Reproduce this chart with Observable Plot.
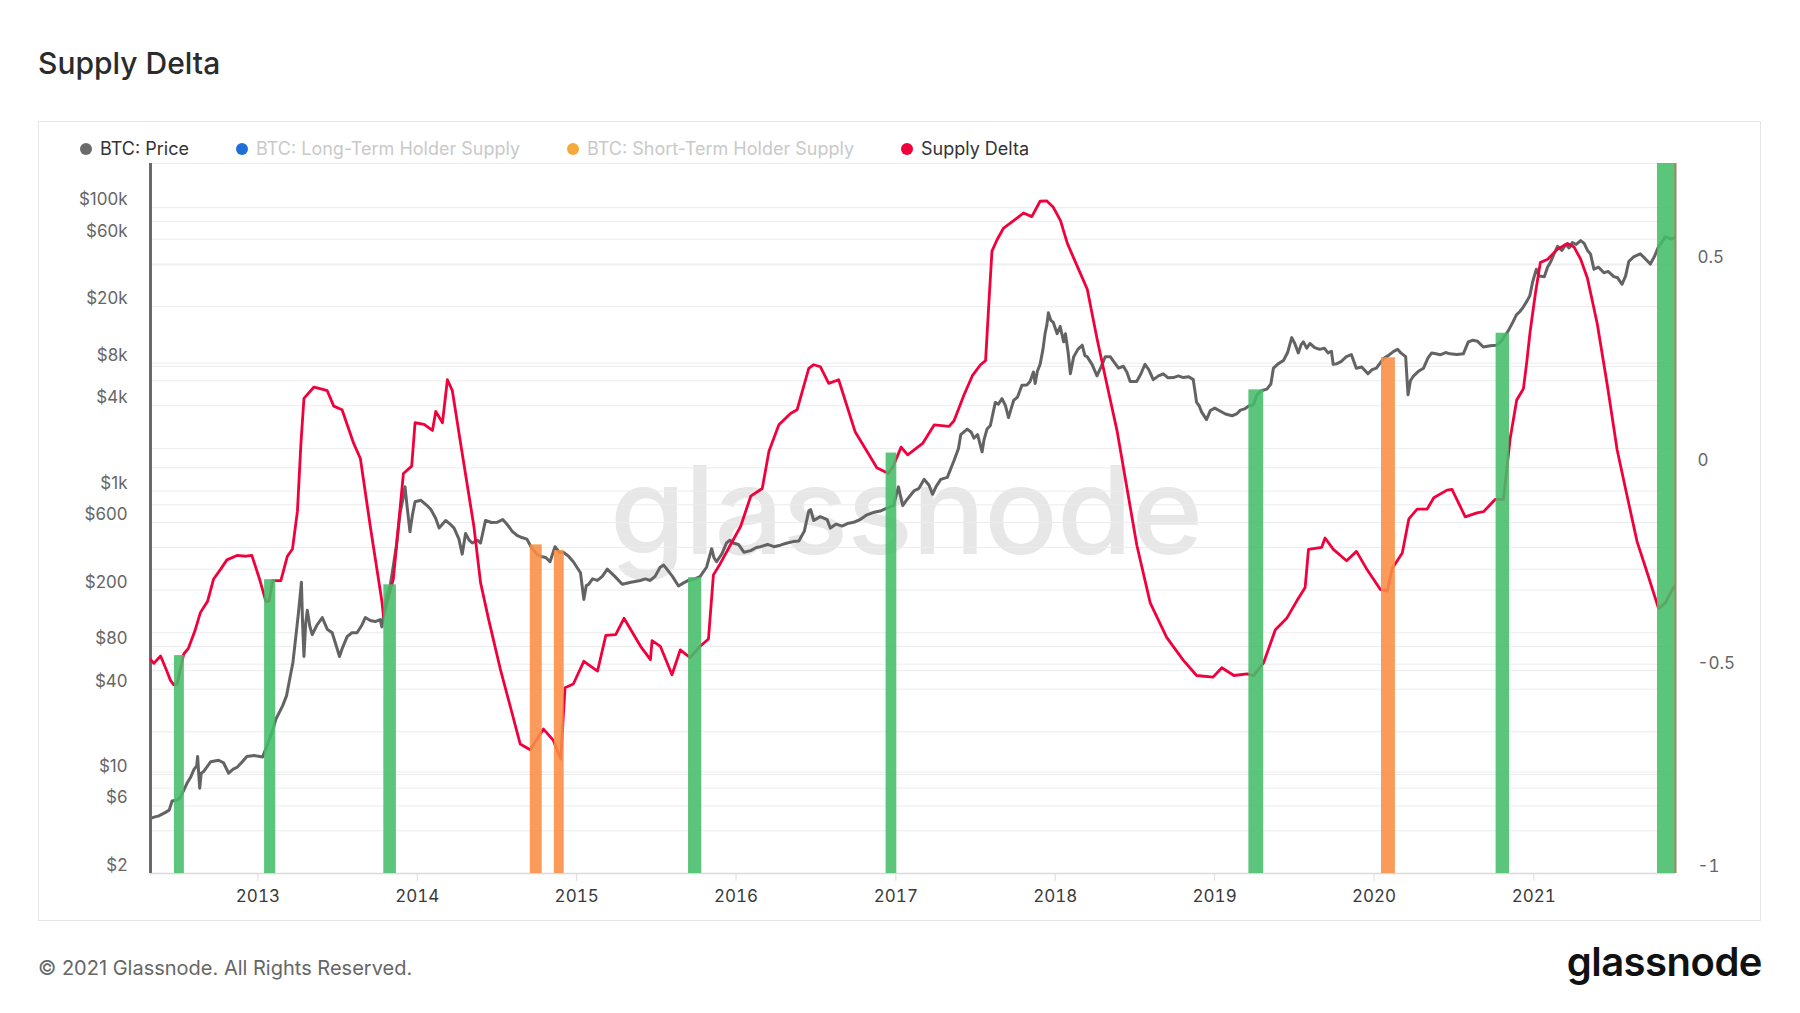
<!DOCTYPE html>
<html>
<head>
<meta charset="utf-8">
<script src="https://cdn.jsdelivr.net/npm/d3@7"></script>
<script src="https://cdn.jsdelivr.net/npm/@observablehq/plot@0.6"></script>
<style>
html,body{margin:0;padding:0;background:#fff;}
#root{position:relative;width:1800px;height:1013px;overflow:hidden;font-family:Inter,"Noto Sans",sans-serif;}
.abs{position:absolute;white-space:nowrap;}
#layers svg{position:absolute;left:0;top:0;}
.dot{position:absolute;width:12px;height:12px;border-radius:50%;}
.leg{position:absolute;font-size:18px;line-height:18px;white-space:nowrap;}
</style>
</head>
<body>
<div id="root">
  <div class="abs" style="left:38px;top:48px;font-size:30px;line-height:30px;color:#2b2b2b;font-weight:500;">Supply Delta</div>
  <div class="abs" style="left:38px;top:121px;width:1721px;height:798px;border:1.5px solid #e4e4e4;"></div>
  <div class="abs" style="left:906px;top:449px;transform:translateX(-50%);font-size:122px;line-height:122px;color:#e7e7e7;font-weight:500;letter-spacing:-1px;">glassnode</div>
  <div id="legend"></div>
  <div id="layers"></div>
  <div class="abs" style="left:38px;top:958px;font-size:20px;line-height:20px;color:#666;">© 2021 Glassnode. All Rights Reserved.</div>
  <div class="abs" style="right:38px;top:942px;font-size:40px;line-height:40px;color:#111;font-weight:600;letter-spacing:-0.5px;">glassnode</div>
</div>
<script>
// ---------------- DATA ----------------
const priceYear = [
2012.329,2012.350,2012.380,2012.422,2012.445,2012.463,2012.495,2012.515,2012.557,2012.580,2012.599,2012.617,2012.623,2012.629,2012.636,2012.645,2012.661,2012.705,2012.754,2012.785,2012.817,2012.845,2012.869,2012.905,2012.931,2012.975,
2013.030,2013.061,2013.090,2013.113,2013.155,2013.180,2013.196,2013.220,2013.238,2013.255,2013.273,2013.280,2013.289,2013.300,2013.310,2013.325,2013.341,2013.370,2013.404,2013.435,2013.466,2013.490,2013.512,2013.530,2013.560,2013.590,2013.622,2013.650,2013.674,2013.705,2013.736,2013.767,2013.778,2013.790,2013.809,2013.830,2013.850,2013.870,2013.892,2013.910,2013.923,2013.935,2013.954,2013.970,2013.986,
2014.023,2014.056,2014.085,2014.116,2014.137,2014.178,2014.206,2014.231,2014.261,2014.282,2014.303,2014.326,2014.345,2014.376,2014.397,2014.428,2014.466,2014.501,2014.536,2014.563,2014.596,2014.626,2014.656,2014.688,2014.716,2014.750,2014.776,2014.806,2014.833,2014.864,2014.891,2014.916,2014.946,2014.979,
2015.024,2015.045,2015.060,2015.076,2015.100,2015.130,2015.161,2015.192,2015.241,2015.286,2015.341,2015.400,2015.431,2015.462,2015.492,2015.524,2015.546,2015.566,2015.601,2015.639,2015.671,2015.701,2015.741,2015.774,2015.815,2015.847,2015.861,2015.878,2015.911,2015.940,2015.961,2015.982,
2016.015,2016.050,2016.092,2016.127,2016.154,2016.197,2016.237,2016.277,2016.320,2016.357,2016.393,2016.427,2016.455,2016.467,2016.486,2016.527,2016.570,2016.590,2016.627,2016.663,2016.697,2016.736,2016.777,2016.819,2016.857,2016.902,2016.947,2016.985,
2017.016,2017.043,2017.073,2017.116,2017.143,2017.178,2017.208,2017.230,2017.253,2017.282,2017.323,2017.365,2017.393,2017.407,2017.448,2017.473,2017.490,2017.513,2017.541,2017.553,2017.572,2017.593,2017.624,2017.643,2017.666,2017.688,2017.707,2017.723,2017.739,2017.763,2017.791,2017.822,2017.842,2017.863,2017.874,2017.888,2017.905,2017.923,2017.936,2017.948,2017.957,2017.973,2017.988,
2018.012,2018.031,2018.053,2018.064,2018.081,2018.095,2018.116,2018.142,2018.169,2018.187,2018.200,2018.231,2018.262,2018.287,2018.314,2018.345,2018.367,2018.397,2018.427,2018.449,2018.470,2018.511,2018.537,2018.563,2018.587,2018.615,2018.648,2018.678,2018.708,2018.741,2018.773,2018.803,2018.838,2018.866,2018.887,2018.903,2018.918,2018.949,2018.973,
2019.001,2019.028,2019.068,2019.110,2019.138,2019.162,2019.188,2019.214,2019.243,2019.266,2019.293,2019.328,2019.353,2019.369,2019.398,2019.432,2019.458,2019.484,2019.503,2019.525,2019.543,2019.557,2019.578,2019.598,2019.628,2019.660,2019.688,2019.712,2019.733,2019.744,2019.764,2019.793,2019.827,2019.858,2019.889,2019.923,2019.962,2019.988,
2020.015,2020.059,2020.087,2020.123,2020.148,2020.168,2020.198,2020.213,2020.228,2020.248,2020.278,2020.310,2020.338,2020.361,2020.388,2020.414,2020.448,2020.476,2020.518,2020.559,2020.590,2020.618,2020.648,2020.684,2020.728,2020.767,2020.798,2020.840,2020.868,2020.891,2020.913,2020.933,2020.958,2020.975,2020.993,
2021.016,2021.033,2021.066,2021.086,2021.107,2021.126,2021.149,2021.176,2021.201,2021.221,2021.242,2021.266,2021.294,2021.316,2021.336,2021.356,2021.377,2021.406,2021.440,2021.466,2021.502,2021.526,2021.554,2021.576,2021.596,2021.626,2021.668,2021.696,2021.731,2021.756,2021.783,2021.804,2021.824,2021.846,2021.866,2021.889
];
const priceUSD = [
4.9,5.0,5.1,5.4,5.6,6.5,6.6,6.9,8.7,9.6,10.8,11.5,13.4,10.4,8.0,10.2,10.5,12.3,12.6,12.1,10.2,10.9,11.2,12.4,13.4,13.6,
13.3,16.4,20,24.6,30.5,36,45,62,94,140,227,120,68,118,144,112,97,113,128,106,100,82,68,78,94,100,100,112,128,122,120,124,110,135,184,215,299,420,700,880,1074,800,517,680,840,
861,800,743,640,548,620,585,548,460,359,501,450,430,450,430,620,600,602,630,583,520,486,470,458,400,359,345,340,317,405,370,370,350,317,
265,172,215,220,240,234,250,281,249,220,227,234,240,234,250,290,300,281,250,214,225,234,240,249,290,392,340,317,360,430,450,430,
420,370,380,400,405,420,405,415,430,440,445,520,723,740,620,660,629,548,585,566,590,602,630,680,705,723,760,791,
1071,791,880,1008,1040,1210,1100,949,1080,1210,1250,1643,2000,2500,2738,2600,2364,2500,1890,2300,2738,2900,4224,4100,4490,4000,3297,3800,4360,4600,5578,5600,5935,6928,5750,7000,7837,10000,12900,15000,18100,16000,15500,
12900,14500,11300,12900,9500,6725,8884,10000,10700,9000,8884,7837,6507,7500,8884,8884,8200,7368,7600,6928,5935,5935,6700,7837,7200,6115,6500,6725,6300,6322,6500,6322,6400,6115,4224,4000,3619,3194,3700,
3848,3700,3500,3400,3500,3728,3800,3979,4050,4774,5100,5243,5700,7368,7900,8349,9500,12100,11000,9440,10800,11300,10200,11000,10300,10000,10200,9440,9700,7837,7900,8200,8884,9200,7368,7500,6725,7200,
7368,8611,9000,9680,10000,9440,8884,4774,6000,6507,7000,7368,8700,9440,9300,9156,9500,9300,9200,9300,11300,11600,11400,10400,10600,10700,11500,13500,15500,17500,18500,19800,22000,23900,30000,
36800,33000,32600,38000,41700,47000,53400,50000,55000,52000,56800,55000,58500,56000,50100,47000,36800,38000,34700,35500,32600,32000,28800,33000,41700,45000,47200,44000,40000,45000,53400,57000,62300,61000,60000,62000
];
const deltaYear = [
2012.329,2012.349,2012.391,2012.425,2012.453,2012.474,2012.495,2012.536,2012.565,2012.605,2012.640,2012.685,2012.723,2012.765,2012.806,2012.869,2012.925,2012.962,
2013.010,2013.050,2013.070,2013.092,2013.144,2013.185,2013.217,2013.248,2013.270,2013.289,2013.352,2013.390,2013.435,2013.476,2013.528,2013.601,2013.643,2013.705,2013.778,2013.788,2013.850,2013.913,2013.965,2013.986,
2014.043,2014.095,2014.116,2014.158,2014.189,2014.220,2014.272,2014.355,2014.397,2014.449,2014.521,2014.584,2014.646,2014.708,2014.792,2014.854,2014.900,2014.927,2014.979,
2015.045,2015.131,2015.183,2015.245,2015.297,2015.401,2015.463,2015.473,2015.525,2015.598,2015.650,2015.712,2015.775,2015.827,2015.858,2015.900,
2016.029,2016.092,2016.164,2016.206,2016.268,2016.341,2016.382,2016.455,2016.486,2016.528,2016.580,2016.642,2016.746,2016.819,2016.881,2016.954,2016.985,
2017.033,2017.074,2017.168,2017.241,2017.334,2017.365,2017.428,2017.480,2017.531,2017.563,2017.583,2017.603,2017.635,2017.676,2017.739,2017.801,2017.853,2017.905,2017.946,2017.988,
2018.033,2018.076,2018.118,2018.170,2018.201,2018.263,2018.325,2018.388,2018.450,2018.512,2018.596,2018.699,2018.803,2018.887,2018.990,
2019.045,2019.121,2019.204,2019.246,2019.308,2019.381,2019.454,2019.516,2019.568,2019.589,2019.672,2019.693,2019.745,2019.828,2019.890,2019.952,
2020.040,2020.083,2020.114,2020.177,2020.218,2020.270,2020.332,2020.374,2020.457,2020.488,2020.571,2020.644,2020.686,2020.758,2020.810,2020.831,2020.852,2020.893,2020.935,2020.956,2020.977,
2021.010,2021.041,2021.087,2021.149,2021.211,2021.253,2021.294,2021.336,2021.398,2021.461,2021.523,2021.585,2021.648,2021.710,2021.783,2021.825,2021.876,2021.889
];
const deltaValue = [
-0.473,-0.482,-0.464,-0.496,-0.524,-0.535,-0.533,-0.459,-0.445,-0.403,-0.357,-0.329,-0.274,-0.251,-0.227,-0.216,-0.218,-0.216,
-0.274,-0.329,-0.329,-0.278,-0.278,-0.218,-0.200,-0.107,0.060,0.171,0.199,0.195,0.190,0.152,0.143,0.060,0.023,-0.144,-0.329,-0.366,-0.274,-0.014,0.004,0.111,
0.107,0.092,0.139,0.111,0.217,0.190,0.060,-0.144,-0.283,-0.376,-0.496,-0.589,-0.681,-0.695,-0.644,-0.672,-0.718,-0.542,-0.533,
-0.477,-0.501,-0.413,-0.411,-0.371,-0.440,-0.473,-0.426,-0.440,-0.510,-0.449,-0.468,-0.440,-0.422,-0.264,-0.237,
-0.144,-0.070,-0.051,0.041,0.106,0.134,0.143,0.245,0.254,0.249,0.208,0.217,0.088,0.041,0.000,-0.014,0.005,
0.051,0.032,0.060,0.106,0.102,0.116,0.180,0.227,0.254,0.264,0.402,0.534,0.562,0.591,0.609,0.628,0.619,0.657,0.658,0.642,
0.609,0.553,0.515,0.468,0.440,0.317,0.204,0.091,-0.050,-0.191,-0.333,-0.418,-0.474,-0.512,-0.516,
-0.493,-0.512,-0.508,-0.512,-0.480,-0.399,-0.370,-0.328,-0.295,-0.201,-0.196,-0.173,-0.201,-0.229,-0.206,-0.248,
-0.300,-0.304,-0.248,-0.210,-0.126,-0.102,-0.102,-0.074,-0.055,-0.053,-0.121,-0.111,-0.108,-0.078,-0.078,-0.003,0.072,0.167,0.195,0.261,0.336,
0.430,0.506,0.514,0.539,0.553,0.544,0.514,0.468,0.355,0.204,0.044,-0.069,-0.182,-0.257,-0.347,-0.333,-0.295,-0.290
];
// signal bars: start, end (decimal year), top (price, $), kind
const barStart = [2012.478,2013.042,2013.790,2014.709,2014.860,2015.702,2016.939,2019.215,2020.047,2020.764,2021.776];
const barEnd   = [2012.540,2013.112,2013.869,2014.784,2014.922,2015.785,2017.006,2019.308,2020.134,2020.848,2021.889];
const barTop   = [69,237,218,417,380,245,1855,5180,8720,13000,205000];
const barKind  = ["buy","buy","buy","sell","sell","buy","buy","buy","sell","buy","buy"];

const yearTicks = [2013,2014,2015,2016,2017,2018,2019,2020,2021];
const leftTickValues = [2,6,10,40,80,200,600,1000,4000,8000,20000,60000,100000];
const leftTickLabels = ["$2","$6","$10","$40","$80","$200","$600","$1k","$4k","$8k","$20k","$60k","$100k"];
const rightTickValues = [-1,-0.5,0,0.5];
const rightTickLabels = ["-1","-0.5","0","0.5"];
const priceGrid = [4,6,8,10,20,40,60,80,100,200,400,600,800,1000,2000,4000,6000,8000,20000,40000,60000,80000,100000];
const deltaGrid = [-0.75,-0.5,-0.25,0,0.25,0.5,0.75];
const domainYears = [2012.328, 2021.889];
const priceDomain = [2, 205000];
const deltaDomain = [-1, 0.75];

const legendItems = [
  {label:"BTC: Price", dot:"#6a6a6a", text:"#333", dx:86, tx:100},
  {label:"BTC: Long-Term Holder Supply", dot:"#1f6fd6", text:"#c9c9c9", dx:242, tx:256},
  {label:"BTC: Short-Term Holder Supply", dot:"#f6a93b", text:"#c9c9c9", dx:573, tx:587},
  {label:"Supply Delta", dot:"#f2003c", text:"#333", dx:907, tx:921}
];

// ---------------- BUILD ----------------
const toDate = y => { const yr = Math.floor(y); const a = Date.UTC(yr,0,1), b = Date.UTC(yr+1,0,1); return new Date(a + (y - yr) * (b - a)); };
const xDomain = domainYears.map(toDate);
const priceData = priceYear.map((y,i) => ({date: toDate(y), v: priceUSD[i]}));
const deltaData = deltaYear.map((y,i) => ({date: toDate(y), v: deltaValue[i]}));
const bars = barStart.map((s,i) => ({x1: toDate(s), x2: toDate(barEnd[i]), top: barTop[i], kind: barKind[i]}));

const W = 1800, H = 1013, ML = 150, MR = 125, MT = 163, MB = 140;
const base = {
  width: W, height: H, marginLeft: ML, marginRight: MR, marginTop: MT, marginBottom: MB,
  style: {background: "transparent", fontFamily: "Inter, sans-serif", fontSize: "17px", overflow: "visible"}
};
const priceY = {type: "log", domain: priceDomain, label: null};
const deltaY = {type: "linear", domain: deltaDomain, label: null};

// layer 0: delta grid + right axis
const L0 = Plot.plot({...base,
  x: {type: "utc", domain: xDomain, axis: null},
  y: deltaY,
  marks: [
    Plot.ruleY(deltaGrid, {stroke: "#ececec", strokeWidth: 1}),
    Plot.axisY({anchor: "right", ticks: rightTickValues, tickFormat: d => rightTickLabels[rightTickValues.indexOf(d)],
      tickSize: 0, tickPadding: 22, dy: -7, fontSize: 17, fill: "#666", label: null})
  ]
});
// layer 1: price grid, axes, price line
const L1 = Plot.plot({...base,
  x: {type: "utc", domain: xDomain, label: null},
  y: {...priceY, axis: null},
  marks: [
    Plot.ruleY(priceGrid, {stroke: "#ececec", strokeWidth: 1}),
    Plot.text(leftTickValues, {y: d => d, text: (d, i) => leftTickLabels[i], frameAnchor: "left",
      textAnchor: "end", dx: -23, dy: -8, fontSize: 17, fill: "#666"}),
    Plot.axisX({ticks: yearTicks.map(y => toDate(y)), tickFormat: d => String(d.getUTCFullYear()),
      tickSize: 8, tickPadding: 8, stroke: "#dcdcdc", fontSize: 17, fill: "#3a3a3a", label: null}),
    Plot.ruleY([priceDomain[0]], {stroke: "#d9d9d9", strokeWidth: 1.5}),
    Plot.line(priceData, {x: "date", y: "v", stroke: "#636363", strokeWidth: 3, clip: true}),
    Plot.ruleX([xDomain[0]], {stroke: "#6a6a6a", strokeWidth: 3})
  ]
});
// layer 2: supply delta line
const L2 = Plot.plot({...base,
  x: {type: "utc", domain: xDomain, axis: null},
  y: {...deltaY, axis: null},
  marks: [
    Plot.line(deltaData, {x: "date", y: "v", stroke: "#f2003c", strokeWidth: 2.8, clip: true})
  ]
});
// layer 3: signal bars
const L3 = Plot.plot({...base,
  x: {type: "utc", domain: xDomain, axis: null},
  y: {...priceY, axis: null},
  marks: [
    Plot.rect(bars.filter(d => d.kind === "buy"), {x1: "x1", x2: "x2", y1: () => priceDomain[0], y2: "top", fill: "#46bd6a", fillOpacity: 0.88, clip: true}),
    Plot.rect(bars.filter(d => d.kind === "sell"), {x1: "x1", x2: "x2", y1: () => priceDomain[0], y2: "top", fill: "#f98d45", fillOpacity: 0.88, clip: true}),
    Plot.ruleX([xDomain[1]], {stroke: "#a0835f", strokeWidth: 2})
  ]
});
const layers = document.getElementById("layers");
[L0, L1, L2, L3].forEach(s => layers.appendChild(s));

// legend
const leg = document.getElementById("legend");
legendItems.forEach(it => {
  const d = document.createElement("div");
  d.className = "dot";
  d.style.left = (it.dx - 6) + "px"; d.style.top = (149 - 6) + "px"; d.style.background = it.dot;
  leg.appendChild(d);
  const t = document.createElement("div");
  t.className = "leg";
  t.style.left = it.tx + "px"; t.style.top = "140px"; t.style.color = it.text;
  t.textContent = it.label;
  leg.appendChild(t);
});
</script>
</body>
</html>
